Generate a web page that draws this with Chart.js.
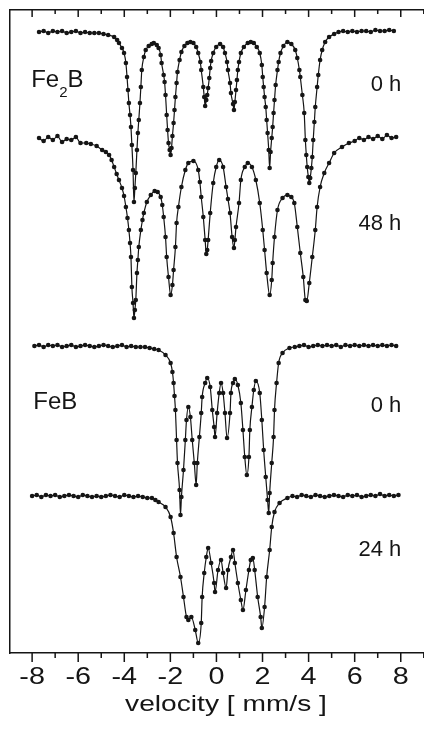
<!DOCTYPE html>
<html>
<head>
<meta charset="utf-8">
<script src="https://cdn.jsdelivr.net/npm/chart.js@4.4.1/dist/chart.umd.min.js"></script>
<style>
  html, body { margin: 0; padding: 0; background: #fff; overflow: hidden; }
  canvas { display: block; }
</style>
</head>
<body>
<canvas id="chart" width="446" height="730"></canvas>
<script>
// Moessbauer spectra.
// each point: [velocity mm/s, relative transmission (arb. units, baseline = 0)]
const fe2b0h = [
  [-7.7,0.0],[-7.5,0.1],[-7.3,-0.1],[-7.1,0.1],[-6.9,0.0],[-6.7,0.1],[-6.5,-0.1],[-6.3,0.0],[-6.1,0.1],[-5.9,-0.1],
  [-5.7,0.0],[-5.5,-0.1],[-5.3,-0.1],[-5.1,-0.1],[-4.9,-0.2],[-4.7,-0.3],[-4.44,-0.5],[-4.31,-0.8],[-4.23,-1.1],[-4.10,-1.6],
  [-4.01,-2.1],[-3.93,-3.1],[-3.88,-4.5],[-3.84,-5.8],[-3.80,-7.1],[-3.75,-8.3],[-3.71,-9.5],[-3.67,-11.3],[-3.62,-13.8],[-3.58,-17.0],
  [-3.54,-15.6],[-3.50,-14.1],[-3.45,-11.8],[-3.41,-10.1],[-3.37,-8.8],[-3.32,-7.1],[-3.28,-5.5],[-3.24,-3.8],[-3.15,-2.5],[-3.07,-1.8],
  [-2.94,-1.4],[-2.81,-1.2],[-2.72,-1.1],[-2.59,-1.3],[-2.51,-1.6],[-2.42,-2.3],[-2.38,-3.1],[-2.29,-4.3],[-2.25,-5.0],[-2.21,-6.3],
  [-2.16,-8.3],[-2.12,-9.8],[-2.08,-11.1],[-2.03,-11.8],[-1.99,-12.3],[-1.95,-11.6],[-1.91,-10.4],[-1.86,-9.1],[-1.82,-7.8],[-1.78,-6.5],
  [-1.73,-5.1],[-1.69,-4.0],[-1.60,-2.8],[-1.52,-2.0],[-1.39,-1.4],[-1.26,-1.1],[-1.13,-1.0],[-1.00,-1.1],[-0.88,-1.5],[-0.79,-2.1],
  [-0.70,-3.0],[-0.66,-3.8],[-0.57,-5.5],[-0.53,-6.5],[-0.49,-7.4],[-0.44,-6.8],[-0.40,-6.3],[-0.36,-5.6],[-0.31,-4.6],[-0.27,-3.6],
  [-0.23,-2.9],[-0.14,-2.1],[-0.01,-1.5],[0.16,-1.2],[0.29,-1.5],[0.37,-2.1],[0.46,-3.0],[0.50,-3.8],[0.59,-5.1],[0.63,-6.1],
  [0.72,-7.2],[0.76,-7.8],[0.80,-7.0],[0.85,-5.8],[0.89,-4.8],[0.93,-3.8],[0.98,-3.0],[1.06,-2.1],[1.19,-1.5],[1.36,-1.1],
  [1.49,-1.0],[1.62,-1.1],[1.75,-1.5],[1.88,-2.1],[1.97,-3.3],[2.01,-4.5],[2.05,-5.5],[2.09,-6.5],[2.14,-7.5],[2.18,-8.8],
  [2.22,-10.1],[2.27,-11.8],[2.31,-13.6],[2.35,-12.0],[2.40,-10.6],[2.44,-9.5],[2.48,-8.1],[2.52,-6.8],[2.57,-5.3],[2.65,-3.8],
  [2.70,-3.0],[2.78,-2.1],[2.91,-1.4],[3.08,-1.0],[3.25,-1.2],[3.42,-1.8],[3.51,-2.6],[3.60,-3.8],[3.64,-4.5],[3.73,-6.3],
  [3.81,-8.1],[3.86,-10.8],[3.90,-12.3],[3.94,-13.5],[3.99,-14.5],[4.03,-15.1],[4.07,-14.6],[4.12,-13.6],[4.16,-12.5],[4.20,-10.8],
  [4.25,-9.0],[4.29,-7.5],[4.37,-5.5],[4.42,-4.3],[4.50,-2.8],[4.59,-1.8],[4.72,-1.0],[4.89,-0.5],[5.11,-0.2],[5.3,0.0],
  [5.5,0.1],[5.7,0.0],[5.9,0.1],[6.1,0.0],[6.3,0.1],[6.5,0.1],[6.7,0.0],[6.9,0.2],[7.1,0.1],[7.3,0.1],[7.5,0.2],[7.7,0.1]
];
const fe2b48h = [
  [-7.7,0.2],[-7.5,-0.1],[-7.3,0.3],[-7.1,0.0],[-6.9,0.4],[-6.7,-0.2],[-6.5,0.1],[-6.3,0.0],[-6.1,0.3],[-5.9,-0.3],
  [-5.65,-0.3],[-5.45,-0.4],[-5.2,-0.6],[-4.96,-1.0],[-4.8,-1.2],[-4.66,-1.5],[-4.55,-2.0],[-4.44,-2.7],[-4.33,-3.4],[-4.23,-4.0],
  [-4.10,-4.8],[-4.01,-5.6],[-3.93,-6.7],[-3.86,-7.8],[-3.80,-9.0],[-3.75,-10.3],[-3.71,-11.7],[-3.67,-14.7],[-3.62,-16.3],[-3.58,-17.8],
  [-3.54,-17.0],[-3.50,-16.0],[-3.45,-13.3],[-3.41,-12.0],[-3.37,-10.7],[-3.28,-9.0],[-3.21,-8.0],[-3.15,-7.3],[-3.02,-6.2],[-2.85,-5.5],
  [-2.68,-5.1],[-2.55,-5.2],[-2.42,-5.7],[-2.35,-6.5],[-2.29,-7.7],[-2.21,-9.7],[-2.16,-11.7],[-2.08,-13.7],[-1.99,-15.5],[-1.91,-14.5],
  [-1.86,-13.0],[-1.78,-10.7],[-1.73,-8.3],[-1.65,-6.7],[-1.52,-4.7],[-1.35,-3.0],[-1.22,-2.3],[-1.00,-2.1],[-0.79,-3.0],[-0.72,-4.2],
  [-0.66,-5.7],[-0.57,-7.7],[-0.49,-10.0],[-0.44,-11.4],[-0.40,-11.0],[-0.36,-10.0],[-0.27,-7.3],[-0.14,-4.3],[-0.01,-2.7],[0.12,-2.0],
  [0.29,-2.7],[0.42,-4.7],[0.50,-5.9],[0.59,-7.3],[0.68,-9.7],[0.76,-10.8],[0.80,-10.0],[0.85,-8.7],[0.98,-6.3],[1.06,-4.0],
  [1.23,-2.7],[1.36,-2.3],[1.54,-2.7],[1.71,-4.0],[1.88,-6.3],[2.01,-9.0],[2.09,-11.0],[2.18,-13.3],[2.31,-15.5],[2.40,-14.0],
  [2.44,-12.3],[2.52,-9.7],[2.65,-7.0],[2.87,-5.8],[3.08,-5.5],[3.25,-5.7],[3.38,-6.3],[3.51,-8.7],[3.64,-11.3],[3.77,-13.7],
  [3.86,-16.0],[3.92,-16.1],[4.03,-14.3],[4.16,-11.7],[4.29,-9.0],[4.37,-6.7],[4.50,-4.7],[4.68,-3.3],[4.89,-2.3],[5.11,-1.3],
  [5.45,-0.7],[5.75,-0.3],[6.0,-0.1],[6.2,0.2],[6.4,0.0],[6.6,0.3],[6.8,0.1],[7.0,0.4],[7.2,0.1],[7.4,0.5],[7.6,0.2],[7.8,0.3]
];
const feb0h = [
  [-7.9,0.0],[-7.7,0.1],[-7.5,-0.1],[-7.3,0.1],[-7.1,0.0],[-6.9,0.1],[-6.7,-0.1],[-6.5,0.0],[-6.3,0.1],[-6.1,-0.1],
  [-5.9,0.0],[-5.7,0.1],[-5.5,0.0],[-5.3,-0.1],[-5.1,0.0],[-4.9,0.1],[-4.7,0.0],[-4.5,-0.1],[-4.3,0.0],[-4.1,0.1],
  [-3.9,-0.1],[-3.7,0.0],[-3.5,-0.1],[-3.3,-0.1],[-3.1,-0.1],[-2.9,-0.2],[-2.7,-0.3],[-2.51,-0.4],[-2.21,-0.9],[-1.99,-1.7],
  [-1.91,-2.6],[-1.86,-3.7],[-1.82,-5.0],[-1.78,-6.4],[-1.73,-9.4],[-1.69,-11.7],[-1.60,-14.4],[-1.56,-16.9],[-1.52,-15.1],[-1.43,-12.4],
  [-1.35,-9.4],[-1.30,-7.4],[-1.22,-6.1],[-1.13,-7.1],[-1.05,-9.4],[-0.96,-11.7],[-0.88,-13.9],[-0.83,-11.7],[-0.74,-9.1],[-0.66,-6.7],
  [-0.62,-5.1],[-0.49,-3.7],[-0.40,-3.2],[-0.27,-4.1],[-0.18,-6.4],[-0.10,-8.1],[-0.06,-9.1],[0.03,-6.7],[0.12,-4.7],[0.20,-3.7],
  [0.29,-4.7],[0.37,-6.7],[0.46,-9.2],[0.59,-6.7],[0.63,-4.7],[0.72,-3.7],[0.80,-3.3],[0.93,-3.9],[1.06,-5.7],[1.15,-8.4],
  [1.23,-11.1],[1.32,-12.9],[1.41,-11.1],[1.45,-8.4],[1.54,-6.1],[1.62,-4.4],[1.71,-3.5],[1.88,-4.7],[1.97,-7.4],[2.05,-10.4],
  [2.14,-13.1],[2.22,-15.4],[2.27,-16.7],[2.31,-14.7],[2.40,-11.7],[2.48,-9.1],[2.52,-6.4],[2.61,-3.7],[2.70,-1.7],[2.87,-0.7],
  [3.17,-0.2],[3.4,-0.1],[3.6,0.0],[3.8,0.1],[4.0,-0.1],[4.2,0.0],[4.4,0.1],[4.6,0.0],[4.8,0.1],[5.0,0.0],
  [5.2,0.1],[5.4,-0.1],[5.6,0.1],[5.8,0.0],[6.0,0.1],[6.2,0.0],[6.4,0.1],[6.6,0.0],[6.8,0.1],[7.0,0.0],
  [7.2,0.1],[7.4,0.0],[7.6,0.1],[7.8,0.0]
];
const feb24h = [
  [-8.0,0.0],[-7.8,0.1],[-7.6,-0.1],[-7.4,0.1],[-7.2,0.0],[-7.0,0.1],[-6.8,-0.1],[-6.6,0.0],[-6.4,0.1],[-6.2,0.0],
  [-6.0,-0.1],[-5.8,0.1],[-5.6,0.0],[-5.4,-0.1],[-5.2,0.0],[-5.0,-0.1],[-4.8,0.0],[-4.6,0.1],[-4.4,0.0],[-4.2,-0.1],
  [-4.0,0.1],[-3.8,0.0],[-3.6,-0.1],[-3.4,0.0],[-3.2,-0.1],[-3.0,-0.2],[-2.8,-0.2],[-2.65,-0.4],[-2.51,-0.6],[-2.21,-1.1],
  [-1.99,-2.1],[-1.86,-3.7],[-1.73,-6.1],[-1.56,-8.1],[-1.43,-10.1],[-1.30,-12.1],[-1.22,-12.4],[-1.09,-12.1],[-0.92,-13.4],[-0.79,-14.7],
  [-0.66,-12.7],[-0.62,-10.1],[-0.53,-7.7],[-0.44,-6.1],[-0.36,-5.2],[-0.23,-6.7],[-0.10,-8.7],[-0.06,-9.6],[0.07,-7.4],[0.20,-6.4],
  [0.29,-7.7],[0.42,-9.2],[0.50,-7.4],[0.63,-6.1],[0.72,-5.4],[0.80,-6.7],[0.93,-8.7],[1.06,-10.4],[1.15,-11.4],[1.28,-9.4],
  [1.41,-7.4],[1.49,-6.4],[1.58,-6.2],[1.66,-7.4],[1.79,-10.1],[1.92,-12.1],[1.97,-13.2],[2.09,-11.1],[2.18,-8.1],[2.31,-5.4],
  [2.40,-3.1],[2.52,-1.6],[2.74,-0.7],[3.08,-0.2],[3.3,0.0],[3.5,-0.1],[3.7,0.1],[3.9,0.0],[4.1,-0.1],[4.3,0.1],
  [4.5,0.0],[4.7,-0.1],[4.9,0.0],[5.1,0.1],[5.3,0.0],[5.5,-0.1],[5.7,0.1],[5.9,0.0],[6.1,0.1],[6.3,-0.1],
  [6.5,0.0],[6.7,0.1],[6.9,0.0],[7.1,0.2],[7.3,0.0],[7.5,0.1],[7.7,0.0],[7.9,0.1]
];

const spectra = [fe2b0h, fe2b48h, feb0h, feb24h];
const offsets = [62.1, 51.3, 30.7, 15.7];      // vertical shift of each spectrum
const timeLabels = ['0 h', '48 h', '0 h', '24 h'];
const tickLabels = ['-8', '-6', '-4', '-2', '0', '2', '4', '6', '8'];
const axisTitle = 'velocity [ mm/s ]';

const ink = '#151515';
const font = '"Liberation Sans", Arial, Helvetica, sans-serif';

// where the text sits, in data units
const timeLabelX = 8.02;
const timeLabelY = [56.2, 42.3, 24.1, 9.7];
const compounds = [
  { main: 'Fe', sub: '2', tail: 'B', x: -8.04, y: 56.6 },
  { main: 'FeB', sub: '', tail: '', x: -7.95, y: 24.4 }
];

function stretched(ctx, text, px, py, sx) {
  ctx.save();
  ctx.translate(px, py);
  ctx.scale(sx, 1);
  ctx.fillText(text, 0, 0);
  ctx.restore();
}

const annotate = {
  id: 'annotate',
  afterDraw(chart) {
    const { ctx, chartArea: a, scales: { x, y } } = chart;
    ctx.save();
    ctx.strokeStyle = ink;
    ctx.fillStyle = ink;
    ctx.lineWidth = 1.5;

    // tick marks: every 1 mm/s, longer at the labelled ones
    ctx.beginPath();
    for (let v = Math.ceil(x.min); v <= Math.floor(x.max); v++) {
      const px = x.getPixelForValue(v);
      const major = v % 2 === 0;
      ctx.moveTo(px, a.bottom);
      ctx.lineTo(px, a.bottom + (major ? 9 : 5));
      ctx.moveTo(px, a.top);
      ctx.lineTo(px, a.top + (major ? 7 : 4));
    }
    ctx.stroke();

    // tick labels and axis title (the original type is wide)
    ctx.textAlign = 'center';
    ctx.textBaseline = 'alphabetic';
    ctx.font = '23px ' + font;
    tickLabels.forEach(t => {
      stretched(ctx, t, x.getPixelForValue(Number(t)), a.bottom + 30.5, 1.25);
    });
    ctx.font = '22px ' + font;
    stretched(ctx, axisTitle, (a.left + a.right) / 2, a.bottom + 58, 1.28);

    // time labels on the right
    ctx.textAlign = 'right';
    ctx.font = '22px ' + font;
    timeLabels.forEach((t, i) => {
      ctx.fillText(t, x.getPixelForValue(timeLabelX), y.getPixelForValue(timeLabelY[i]));
    });

    // compound names on the left
    ctx.textAlign = 'left';
    compounds.forEach(c => {
      let px = x.getPixelForValue(c.x);
      const py = y.getPixelForValue(c.y);
      ctx.font = '24px ' + font;
      ctx.fillText(c.main, px, py);
      px += ctx.measureText(c.main).width;
      if (c.sub) {
        ctx.font = '15px ' + font;
        ctx.fillText(c.sub, px, py + 10);
        px += ctx.measureText(c.sub).width;
        ctx.font = '24px ' + font;
        ctx.fillText(c.tail, px, py);
      }
    });
    ctx.restore();
  }
};

const frame = { display: true, color: ink, width: 1.5 };
const bare = { display: false, drawTicks: false, tickLength: 0 };

new Chart(document.getElementById('chart'), {
  type: 'line',
  data: {
    datasets: spectra.map((pts, i) => ({
      label: timeLabels[i],
      data: pts.map(([v, t]) => ({ x: v, y: t + offsets[i] })),
      borderColor: ink,
      borderWidth: 1.2,
      pointRadius: 2.3,
      pointBackgroundColor: ink,
      pointBorderWidth: 0,
      cubicInterpolationMode: 'monotone',
      fill: false
    }))
  },
  options: {
    responsive: false,
    animation: false,
    events: [],
    layout: { padding: { left: 10, top: 10, right: 0, bottom: 77 } },
    plugins: { legend: { display: false }, tooltip: { enabled: false } },
    scales: {
      x: {
        type: 'linear', min: -8.96, max: 9.79,
        ticks: { display: false, padding: 0 }, grid: bare, border: frame
      },
      xTop: {
        type: 'linear', position: 'top', min: -8.96, max: 9.79,
        ticks: { display: false, padding: 0 }, grid: bare, border: frame
      },
      y: {
        min: 0, max: 64.3,
        ticks: { display: false, padding: 0 }, grid: bare, border: frame
      }
    }
  },
  plugins: [annotate]
});
</script>
</body>
</html>
